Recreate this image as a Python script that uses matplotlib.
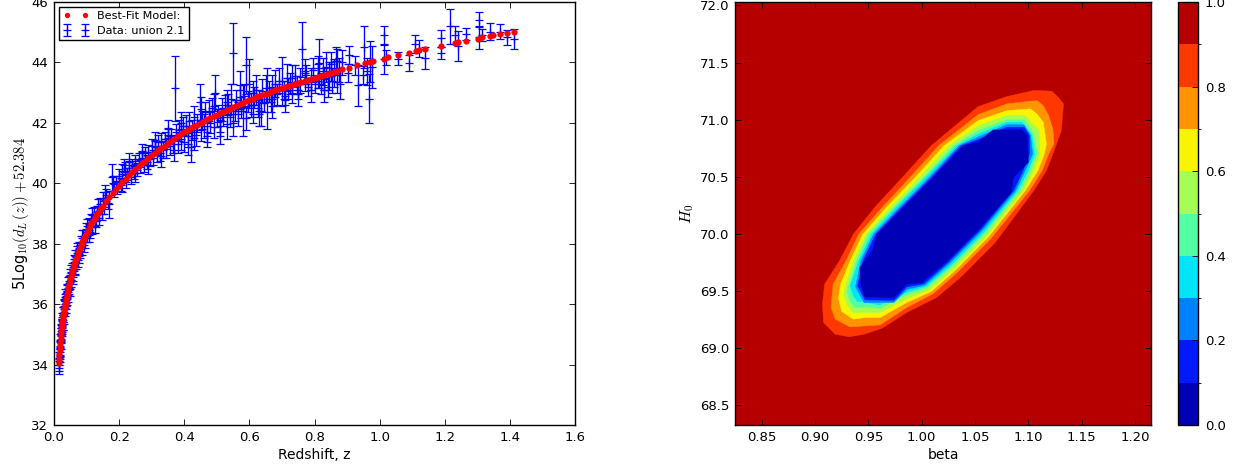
import matplotlib
matplotlib.use('Agg')
import matplotlib.pyplot as plt
from matplotlib.colors import BoundaryNorm, ListedColormap
from matplotlib.cm import ScalarMappable

plt.rcParams['font.size'] = 9.5
plt.rcParams['mathtext.fontset'] = 'cm'

# ---- supernova data
z_data = [.015, .016, .017, .018, .019, .02, .021, .022, .023, .024, .025, .026, .027, .028, .03, .031, .033, .034,
          .036, .038, .04, .042, .045, .047, .05, .052, .055, .058, .06, .063, .066, .068, .07, .073, .076, .08,
          .083, .086, .09, .094, .098, .102, .106, .11, .114, .118, .123, .128, .132, .137, .14, .15, .155, .16,
          .165, .17, .177, .18, .185, .19, .195, .20, .205, .21, .215, .218, .22, .225, .23, .235, .24, .245,
          .25, .255, .26, .265, .27, .275, .28, .285, .29, .295, .30, .305, .31, .315, .32, .325, .33, .335,
          .34, .345, .35, .355, .36, .365, .371, .375, .38, .385, .39, .395, .40, .405, .41, .415, .42, .425,
          .43, .435, .44, .448, .45, .455, .46, .465, .47, .475, .48, .485, .49, .495, .50, .505, .51, .515,
          .52, .525, .53, .535, .54, .545, .55, .555, .56, .565, .57, .575, .58, .585, .59, .595, .60, .605,
          .61, .615, .62, .625, .63, .635, .64, .645, .654, .66, .665, .67, .675, .68, .685, .70, .705, .71,
          .715, .72, .725, .73, .74, .745, .75, .755, .762, .77, .775, .78, .79, .795, .80, .81, .814, .82,
          .825, .83, .835, .84, .845, .85, .855, .86, .865, .87, .875, .878, .885, .904, .907, .925, .934, .95,
          .952, .96, .968, .969, .977, 1.012, 1.012, 1.02, 1.057, 1.09, 1.108, 1.122, 1.14, 1.19, 1.19, 1.215,
          1.232, 1.24, 1.265, 1.305, 1.305, 1.315, 1.339, 1.37, 1.392, 1.413]
mu_data = [33.9, 34.2, 34.4, 34.5, 34.8, 34.75, 35.0, 35.1, 35.05, 35.35, 35.25, 35.5, 35.4, 35.7, 35.6, 35.9, 36.1, 35.85,
           36.15, 36.05, 36.45, 36.3, 36.7, 36.55, 36.95, 36.8, 37.15, 37.0, 37.3, 37.15, 37.6, 37.35, 37.7, 37.45, 37.85, 37.75,
           38.05, 37.85, 38.25, 38.05, 38.5, 38.25, 38.65, 38.4, 38.8, 38.55, 39.0, 38.75, 39.05, 38.85, 39.3, 39.5, 39.2, 39.6,
           39.35, 39.3, 40.2, 40.0, 39.75, 40.05, 39.85, 40.25, 39.95, 40.4, 40.6, 40.4, 40.05, 40.3, 40.5, 40.2, 40.6, 40.35,
           40.75, 40.45, 40.8, 40.55, 40.85, 40.6, 41.0, 40.7, 41.05, 40.8, 41.25, 40.85, 41.2, 40.95, 41.35, 41.0, 41.4, 41.1,
           41.45, 41.15, 41.6, 41.25, 41.55, 41.3, 43.14, 41.7, 41.3, 41.75, 41.45, 41.9, 41.35, 41.9, 41.55, 42.05, 41.2, 41.75,
           42.2, 41.6, 42.0, 42.7, 41.75, 42.1, 41.9, 42.35, 41.7, 42.4, 42.0, 42.5, 41.85, 43.0, 42.15, 42.3, 41.9, 42.45,
           42.2, 42.6, 41.95, 42.6, 42.2, 42.8, 44.3, 42.4, 42.75, 42.3, 43.1, 42.5, 42.4, 42.9, 43.9, 42.7, 43.3, 42.6,
           42.3, 42.85, 43.1, 42.5, 42.75, 42.4, 43.05, 42.65, 42.8, 43.05, 42.7, 43.2, 42.85, 43.3, 42.95, 43.37, 43.1, 42.9,
           43.5, 43.15, 43.3, 43.0, 43.55, 43.25, 43.1, 43.4, 44.43, 43.35, 43.6, 43.2, 43.45, 43.75, 43.3, 43.55, 43.97, 43.3,
           43.7, 43.45, 43.85, 43.2, 43.55, 43.95, 43.4, 43.65, 44.05, 43.35, 43.75, 43.3, 44.0, 43.64, 44.26, 43.9, 43.24, 43.57,
           44.5, 43.7, 42.8, 44.03, 43.86, 44.9, 44.1, 44.17, 44.12, 43.98, 44.6, 44.46, 44.15, 44.3, 44.8, 45.2,
           44.9, 44.55, 44.93, 45.42, 44.83, 44.9, 45.02, 45.02, 44.83, 44.76]
err_data = [.22, .22, .22, .24, .22, .24, .22, .24, .25, .22, .24, .22, .25, .22, .25, .23, .22, .25,
            .22, .22, .22, .22, .22, .22, .2, .22, .2, .22, .2, .2, .2, .2, .22, .22, .2, .22,
            .2, .22, .2, .2, .2, .2, .2, .22, .2, .22, .22, .2, .2, .22, .2, .2, .2, .2,
            .2, .45, .45, .25, .22, .2, .22, .22, .22, .25, .22, .3, .22, .2, .2, .22, .22, .22,
            .2, .22, .2, .22, .22, .22, .2, .22, .22, .22, .22, .25, .22, .25, .24, .25, .25, .25,
            .25, .3, .24, .3, .25, .3, 1.07, .26, .3, .35, .35, .3, .3, .35, .35, .32, .5, .33,
            .35, .35, .3, .6, .35, .3, .4, .35, .33, .35, .35, .32, .35, .6, .3, .28, .35, .38,
            .3, .32, .5, .35, .35, .5, 1.0, .35, .35, .4, .6, .35, .85, .38, .95, .35, .8, .4,
            .3, .35, .5, .3, .35, .5, .4, .3, 1.0, .35, .35, .4, .3, .45, .35, .8, .3, .3,
            .45, .35, .35, .35, .35, .3, .3, .4, .9, .3, .3, .3, .35, .4, .3, .4, .8, .35,
            .45, .35, .5, .35, .45, .4, .4, .45, .45, .35, .4, .5, .4, .3, .3, .3, .67, .3,
            .7, .45, .82, .67, .7, .3, .48, .25, .22, .27, .3, .27, .37, .2, .28, .58,
            .3, .49, .2, .25, .38, .2, .27, .25, .25, .33]

# more of the same, where the reference is densest
z_extra = [.0155, .0175, .0195, .0215, .0235, .0255, .0275, .029, .032, .035, .037, .039, .041, .044, .048, .053, .057,
           .061, .065, .071, .078, .085, .092, .1, .108, .116, .125, .135, .148, .158,
           .21, .23, .25, .27, .29, .31, .33, .35, .37, .39, .41, .43, .45, .47, .49, .51, .53, .55, .57, .59, .61,
           .63, .65, .67, .69, .71, .73, .75, .77, .79, .81, .83, .85, .87]
mu_extra = [34.0, 34.3, 34.55, 34.95, 35.3, 35.2, 35.65, 35.4, 35.95, 36.25, 35.95, 36.4, 36.2, 36.65, 36.5, 37.05, 36.9,
            37.4, 37.25, 37.8, 37.6, 38.2, 37.95, 38.6, 38.3, 38.95, 38.6, 39.25, 39.0, 39.7,
            40.0, 40.75, 40.35, 41.05, 40.6, 41.4, 40.9, 41.8, 41.1, 42.0, 41.3, 41.5, 42.45, 41.55, 42.55, 41.7, 42.7, 42.0, 42.85, 42.15, 43.0,
            42.3, 43.15, 42.55, 43.4, 42.75, 43.5, 42.95, 43.7, 43.1, 43.8, 43.1, 43.7, 44.05]
err_extra = [.22, .22, .24, .25, .22, .24, .24, .25, .22, .24, .25, .24, .24, .24, .24, .24, .24,
             .24, .24, .22, .24, .24, .24, .22, .24, .22, .24, .24, .22, .24,
             .3, .25, .3, .26, .3, .3, .35, .3, .35, .35, .35, .4, .4, .35, .4, .4, .4, .45, .4, .4, .4,
             .4, .45, .4, .4, .4, .4, .4, .4, .4, .4, .4, .3, .4]

# ---- best-fit model curve
z_model = [.014, .015, .016, .017, .018, .019, .02, .021, .022, .023, .024, .025, .026, .027, .028, .029, .03, .031, .032, .033, .034,
           .0355, .037, .0385, .04, .0415, .043, .0445, .046, .048, .05, .052, .054, .056, .058, .06,
           .062, .064, .066, .068, .07, .0725, .075, .0775, .08, .0825, .085, .0875, .09, .0925, .095, .10, .105, .11, .115, .12, .125, .13, .135, .14, .145,
           .15, .16, .17, .18, .19, .20, .21, .22, .23, .24, .25, .26, .27, .28, .29, .30, .31, .32, .33, .34,
           .35, .36, .37, .38, .39, .40, .41, .42, .43, .44, .45, .46, .47, .48, .49, .50, .51, .52, .53, .54,
           .55, .56, .57, .58, .59, .60, .61, .62, .63, .64, .65, .66, .67, .68, .69, .70, .71, .72, .73, .74,
           .75, .76, .77, .78, .79, .80, .81, .82, .83, .84, .85, .86, .87, .883, .907, .932, .955, .971, .981,
           1.012, 1.027, 1.056, 1.091, 1.112, 1.122, 1.14, 1.189, 1.232, 1.242, 1.265, 1.303, 1.314, 1.339,
           1.349, 1.37, 1.39, 1.414]
mu_model = [34.05, 34.2, 34.35, 34.48, 34.6, 34.72, 34.83, 34.94, 35.04, 35.14, 35.23, 35.32, 35.4, 35.48, 35.56, 35.64, 35.71, 35.78, 35.85, 35.92, 35.98,
            36.08, 36.17, 36.26, 36.34, 36.42, 36.5, 36.57, 36.64, 36.74, 36.83, 36.92, 37.0, 37.08, 37.15, 37.23,
            37.3, 37.37, 37.43, 37.5, 37.56, 37.64, 37.72, 37.79, 37.86, 37.93, 38.0, 38.07, 38.13, 38.19, 38.25, 38.36, 38.47, 38.57, 38.67, 38.76, 38.85, 38.94, 39.02, 39.1, 39.18,
            39.25, 39.4, 39.54, 39.67, 39.8, 39.92, 40.04, 40.15, 40.26, 40.37, 40.47, 40.57, 40.66, 40.75, 40.84, 40.93, 41.01, 41.09, 41.17, 41.25,
            41.33, 41.4, 41.48, 41.56, 41.63, 41.7, 41.76, 41.82, 41.88, 41.94, 42.0, 42.06, 42.12, 42.17, 42.22, 42.27, 42.32, 42.37, 42.42, 42.47,
            42.52, 42.57, 42.62, 42.66, 42.71, 42.75, 42.8, 42.84, 42.88, 42.92, 42.96, 43.0, 43.04, 43.08, 43.12, 43.15, 43.19, 43.22, 43.26, 43.29,
            43.33, 43.36, 43.4, 43.43, 43.46, 43.49, 43.53, 43.56, 43.59, 43.62, 43.66, 43.69, 43.72, 43.77, 43.83, 43.9, 43.98, 44.03, 44.06,
            44.12, 44.18, 44.23, 44.32, 44.37, 44.4, 44.45, 44.56, 44.64, 44.67, 44.72, 44.78, 44.83, 44.87,
            44.92, 44.94, 44.97, 45.02]

# ---- contour outlines of the right panel
beta_10 = [1.053, 1.067, 1.094, 1.099, 1.100, 1.086, 1.084, 1.055, 1.024, 1.000, .986, .974, .947, .943, .942, .954, .958, .983, 1.011, 1.039]
h0_10 = [70.801, 70.910, 70.910, 70.860, 70.626, 70.494, 70.363, 70.056, 69.763, 69.573, 69.559, 69.442, 69.448, 69.559, 69.705, 69.851, 69.997, 70.231, 70.494, 70.772]
beta_20 = [1.053, 1.080, 1.096, 1.101, 1.101, 1.095, 1.086, 1.056, 1.025, 1.002, .986, .974, .947, .940, .945, .957, .981, 1.009, 1.037]
h0_20 = [70.825, 70.933, 70.933, 70.860, 70.699, 70.553, 70.377, 70.044, 69.752, 69.562, 69.535, 69.418, 69.421, 69.544, 69.763, 69.997, 70.231, 70.494, 70.772]
beta_30 = [1.053, 1.080, 1.096, 1.102, 1.104, 1.097, 1.088, 1.057, 1.026, 1.003, .986, .974, .946, .938, .943, .955, .979, 1.007, 1.035]
h0_30 = [70.848, 70.956, 70.953, 70.860, 70.699, 70.553, 70.377, 70.032, 69.740, 69.550, 69.512, 69.398, 69.398, 69.535, 69.763, 69.997, 70.231, 70.494, 70.772]
beta_40 = [1.053, 1.080, 1.094, 1.103, 1.106, 1.100, 1.090, 1.059, 1.028, 1.004, .986, .961, .949, .940, .936, .933, .941, .953, .976, 1.004, 1.033]
h0_40 = [70.872, 70.977, 70.977, 70.874, 70.699, 70.553, 70.377, 70.021, 69.728, 69.538, 69.488, 69.377, 69.398, 69.407, 69.456, 69.544, 69.763, 69.997, 70.231, 70.494, 70.772]
beta_50 = [1.053, 1.080, 1.096, 1.105, 1.108, 1.102, 1.092, 1.060, 1.029, 1.005, .986, .961, .949, .938, .933, .930, .932, .939, .950, .974, 1.002, 1.030]
h0_50 = [70.904, 70.997, 70.997, 70.874, 70.699, 70.553, 70.377, 70.009, 69.717, 69.526, 69.465, 69.348, 69.360, 69.354, 69.407, 69.494, 69.559, 69.763, 69.997, 70.231, 70.494, 70.772]
beta_60 = [1.053, 1.080, 1.097, 1.110, 1.111, 1.105, 1.095, 1.062, 1.031, 1.007, .986, .961, .947, .936, .930, .927, .929, .936, .948, .971, .998, 1.026]
h0_60 = [70.945, 71.035, 71.035, 70.904, 70.699, 70.553, 70.377, 69.991, 69.699, 69.509, 69.433, 69.310, 69.313, 69.307, 69.377, 69.465, 69.559, 69.763, 69.997, 70.231, 70.494, 70.772]
beta_70 = [1.053, 1.080, 1.102, 1.108, 1.114, 1.117, 1.115, 1.109, 1.097, 1.063, 1.032, 1.009, .986, .961, .947, .936, .925, .922, .924, .933, .945, .967, .994, 1.021]
h0_70 = [70.991, 71.079, 71.094, 71.050, 70.977, 70.787, 70.699, 70.553, 70.377, 69.977, 69.684, 69.494, 69.398, 69.266, 69.266, 69.252, 69.319, 69.436, 69.559, 69.763, 69.997, 70.231, 70.494, 70.772]
beta_80 = [1.053, 1.080, 1.108, 1.114, 1.119, 1.123, 1.124, 1.119, 1.113, 1.101, 1.065, 1.034, 1.011, .986, .961, .946, .933, .919, .915, .917, .929, .941, .963, .989, 1.016]
h0_80 = [71.044, 71.138, 71.167, 71.123, 71.035, 70.918, 70.787, 70.699, 70.553, 70.377, 69.959, 69.667, 69.477, 69.354, 69.202, 69.193, 69.184, 69.252, 69.354, 69.559, 69.763, 69.997, 70.231, 70.494, 70.772]
beta_90 = [1.053, 1.080, 1.105, 1.122, 1.128, 1.133, 1.131, 1.123, 1.117, 1.105, 1.069, 1.038, 1.014, .986, .963, .946, .932, .919, .908, .907, .909, .923, .936, .956, .982, 1.009]
h0_90 = [71.114, 71.202, 71.255, 71.249, 71.196, 71.138, 70.904, 70.699, 70.553, 70.377, 69.924, 69.632, 69.442, 69.310, 69.173, 69.120, 69.097, 69.120, 69.222, 69.383, 69.559, 69.763, 69.997, 70.231, 70.494, 70.772]

levels = [0.0, 0.1, 0.2, 0.3, 0.4, 0.5, 0.6, 0.7, 0.8, 0.9, 1.0]
outlines = [(beta_90, h0_90), (beta_80, h0_80), (beta_70, h0_70), (beta_60, h0_60), (beta_50, h0_50),
            (beta_40, h0_40), (beta_30, h0_30), (beta_20, h0_20), (beta_10, h0_10)]

W, H = 1238.0, 471.0
fig = plt.figure(figsize=(W / 100, H / 100), dpi=100)


def px_axes(left, right, top, bottom):
    return fig.add_axes((left / W, (H - bottom) / H, (right - left) / W, (bottom - top) / H))


def tidy(ax):
    ax.tick_params(direction='in', top=True, right=True, length=4, width=0.6, pad=4)
    for s in ax.spines.values():
        s.set_linewidth(1.0)


# left panel
ax = px_axes(54, 575, 2, 425)
ax.errorbar(z_data + z_extra, mu_data + mu_extra, yerr=err_data + err_extra, fmt='+', color='#0000ff', ecolor='#0000ff',
            ms=6, mew=0.9, elinewidth=0.95, capsize=2.8, capthick=0.95, label='Data: union 2.1', zorder=2)
ax.plot(z_model, mu_model, 'o', color='red', ms=4.5, mec='none', label='Best-Fit Model:', zorder=3)
ax.set_xlim(0, 1.6)
ax.set_ylim(32, 46)
ax.set_xticks([0.0, 0.2, 0.4, 0.6, 0.8, 1.0, 1.2, 1.4, 1.6])
ax.set_yticks([32, 34, 36, 38, 40, 42, 44, 46])
ax.set_xlabel('Redshift, z', labelpad=3, fontsize=10)
ax.set_ylabel(r'5Log$_{10}(d_L\,(z))+52.384$', labelpad=0.5, fontsize=10.5)
tidy(ax)
leg = ax.legend(loc='upper left', numpoints=2, fontsize=8.1, fancybox=False, framealpha=1, edgecolor='black',
                borderaxespad=0.43, handlelength=2.2, labelspacing=0.4, borderpad=0.4, markerscale=0.85)

# right panel
ax2 = px_axes(735, 1151, 2, 425)
cmap = plt.get_cmap('jet')
ax2.set_facecolor(cmap(0.95))
for i, (bx, hy) in enumerate(outlines):
    band = cmap(levels[8 - i] + 0.05)
    ax2.fill(bx, hy, facecolor=band, edgecolor=band, lw=0.3, zorder=2 + i)
ax2.set_xlim(0.825, 1.215)
ax2.set_ylim(68.325, 72.03)
ax2.set_xticks([0.85, 0.90, 0.95, 1.00, 1.05, 1.10, 1.15, 1.20])
ax2.set_yticks([68.5, 69.0, 69.5, 70.0, 70.5, 71.0, 71.5, 72.0])
ax2.set_xlabel('beta', labelpad=3, fontsize=10)
ax2.set_ylabel('$H_0$', labelpad=2.5, fontsize=11.5)
tidy(ax2)

# colorbar
cax = px_axes(1178, 1198, 2, 425)
band_cmap = ListedColormap([cmap(v + 0.05) for v in levels[:-1]])
sm = ScalarMappable(norm=BoundaryNorm(levels, band_cmap.N), cmap=band_cmap)
cb = fig.colorbar(sm, cax=cax, ticks=[0.0, 0.2, 0.4, 0.6, 0.8, 1.0], spacing='proportional')
cb.ax.tick_params(direction='in', length=4, width=0.6, pad=5)
cb.outline.set_linewidth(1.0)

fig.savefig('out.png', dpi=100)
